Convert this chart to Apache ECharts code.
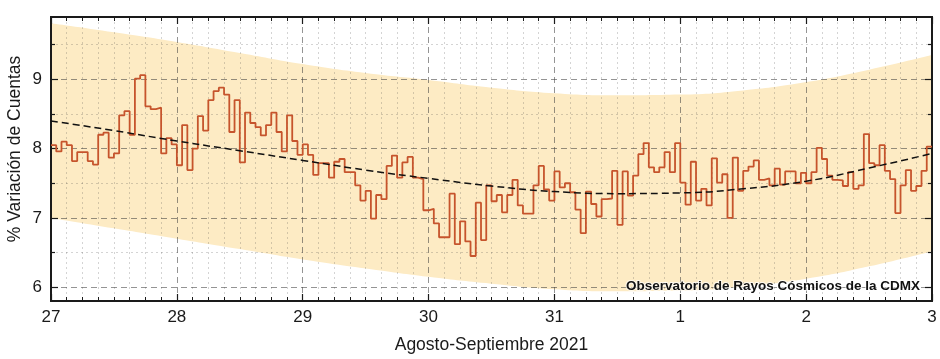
<!DOCTYPE html>
<html><head><meta charset="utf-8">
<script src="https://cdn.jsdelivr.net/npm/echarts@6/dist/echarts.min.js"></script>
<style>html,body{margin:0;padding:0;background:#fff}#c{width:940px;height:359px}</style>
</head><body><div id="c"></div>
<script>
// ---- data (hours counted from 27 Aug 00:00) ----
const dayLabels = ['27','28','29','30','31','1','2','3'];
const yMajorTicks = [6, 7, 8, 9];
const yMinorTicks = [6.5, 7.5, 8.5, 9.5];

const hourlyVariation = [
  8.05, 7.96, 8.10, 8.05, 7.82, 7.95, 7.95, 7.82, 7.77, 8.20, 8.23, 7.87, 7.93, 8.48, 8.54, 8.20, 9.01, 9.06, 8.61, 8.57, 8.59, 7.93, 8.15, 8.06,
  7.76, 8.34, 7.69, 8.00, 8.47, 8.26, 8.70, 8.83, 8.88, 8.78, 8.24, 8.70, 7.80, 8.52, 8.37, 8.31, 8.19, 8.34, 8.52, 8.24, 7.96, 8.48, 8.11, 7.91,
  8.06, 7.91, 7.62, 7.79, 7.79, 7.58, 7.81, 7.85, 7.66, 7.66, 7.47, 7.25, 7.39, 6.99, 7.33, 7.27, 7.75, 7.90, 7.58, 7.80, 7.88, 7.58, 7.56, 7.11,
  7.13, 6.92, 6.72, 6.72, 7.35, 6.62, 6.95, 6.66, 6.45, 7.22, 6.68, 7.47, 7.24, 7.33, 7.08, 7.33, 7.55, 7.18, 7.06, 7.06, 7.47, 7.75, 7.41, 7.25,
  7.67, 7.44, 7.50, 7.37, 7.12, 6.78, 7.38, 7.20, 7.02, 7.27, 7.28, 7.68, 6.90, 7.67, 7.32, 7.61, 7.92, 8.08, 7.73, 7.66, 7.73, 7.95, 7.66, 8.08,
  7.51, 7.19, 7.81, 7.25, 7.42, 7.18, 7.86, 7.51, 7.63, 7.00, 7.87, 7.39, 7.68, 7.74, 7.83, 7.55, 7.57, 7.47, 7.71, 7.48, 7.67, 7.67, 7.50, 7.65,
  7.50, 7.66, 8.01, 7.85, 7.61, 7.55, 7.54, 7.46, 7.66, 7.42, 7.47, 8.21, 7.79, 7.76, 8.05, 7.68, 7.56, 7.07, 7.47, 7.69, 7.39, 7.46, 7.68, 8.03
];

const curveHours  = [0, 12, 24, 36, 48, 60, 72, 84, 96, 108, 120, 132, 144, 156, 168];
const trendValues = [8.40, 8.26, 8.11, 7.97, 7.83, 7.69, 7.57, 7.46, 7.38, 7.35, 7.36, 7.42, 7.53, 7.72, 7.93];
const bandUpper   = [9.81, 9.68, 9.54, 9.38, 9.22, 9.09, 8.99, 8.88, 8.80, 8.77, 8.78, 8.84, 8.96, 9.14, 9.35];
const bandLower   = [7.00, 6.85, 6.70, 6.55, 6.40, 6.27, 6.15, 6.05, 5.97, 5.94, 5.95, 6.01, 6.12, 6.30, 6.52];

const annotation = 'Observatorio de Rayos Cósmicos de la CDMX';
const xTitle = 'Agosto-Septiembre 2021';
const yTitle = '% Variación de Cuentas';

// ---- chart ----
const FF = '"Liberation Sans", Arial, sans-serif';
const INK = '#1a1a1a';
const MAJOR_GRID = {color: 'rgba(60,60,60,0.55)', type: [6, 4], width: 1};
const MINOR_GRID = {color: 'rgba(60,60,60,0.22)', type: [2, 3], width: 1};
const chart = echarts.init(document.getElementById('c'), null, {renderer: 'canvas'});

const stepData = hourlyVariation.map((v, i) => [i, v]);
stepData.push([hourlyVariation.length, hourlyVariation[hourlyVariation.length - 1]]);

const axisLineStyle = {show: true, onZero: false, lineStyle: {color: INK, width: 2}};

function xAx(pos, main) {
  return {
    type: 'value', position: pos, min: 0, max: 168, interval: 24, z: 3,
    axisLine: axisLineStyle,
    axisTick: {show: true, inside: true, length: 7, lineStyle: {color: INK, width: 1.2}},
    minorTick: {show: true, splitNumber: 8, length: 4, lineStyle: {color: INK, width: 1}},
    axisLabel: main ? {show: true, formatter: v => dayLabels[Math.round(v / 24)], fontSize: 17, color: INK, margin: 8, fontFamily: FF} : {show: false},
    splitLine: {show: main, lineStyle: MAJOR_GRID},
    minorSplitLine: {show: main, lineStyle: MINOR_GRID},
    name: main ? xTitle : '', nameLocation: 'middle', nameGap: 35,
    nameTextStyle: {fontSize: 17.5, color: INK, fontFamily: FF}
  };
}
function yAx(pos, ticks, major, showGrid) {
  return {
    type: 'value', position: pos, min: 5.8, max: 9.9, z: 3,
    axisLine: axisLineStyle,
    axisTick: {show: true, inside: true, length: major ? 7 : 4, customValues: ticks, lineStyle: {color: INK, width: 1.2}},
    axisLabel: (major && pos === 'left') ? {show: true, customValues: ticks, fontSize: 17, color: INK, margin: 9, fontFamily: FF} : {show: false},
    splitLine: {show: showGrid, lineStyle: major ? MAJOR_GRID : MINOR_GRID}
  };
}

const option = {
  animation: false,
  backgroundColor: '#fff',
  grid: {left: 51, right: 8, top: 17, bottom: 56, containLabel: false},
  xAxis: [xAx('bottom', true), xAx('top', false)],
  yAxis: [
    yAx('left', yMajorTicks, true, true),
    yAx('left', yMinorTicks, false, true),
    yAx('right', yMajorTicks, true, false),
    yAx('right', yMinorTicks, false, false)
  ],
  series: [
    {
      name: 'bandUpper', type: 'line', smooth: true, symbol: 'none', silent: true, z: 1,
      lineStyle: {opacity: 0}, areaStyle: {color: '#fdebc4', opacity: 1, origin: 'start'},
      data: curveHours.map((h, i) => [h, bandUpper[i]])
    },
    {
      name: 'bandLower', type: 'line', smooth: true, symbol: 'none', silent: true, z: 1,
      lineStyle: {opacity: 0}, areaStyle: {color: '#ffffff', opacity: 1, origin: 'start'},
      data: curveHours.map((h, i) => [h, bandLower[i]])
    },
    {
      name: 'variation', type: 'line', step: 'end', symbol: 'none', z: 5,
      lineStyle: {color: '#c6542c', width: 1.8}, data: stepData
    },
    {
      name: 'trend', type: 'line', smooth: true, symbol: 'none', z: 6,
      lineStyle: {color: '#111', width: 1.5, type: [7, 4]},
      data: curveHours.map((h, i) => [h, trendValues[i]])
    }
  ],
  graphic: [
    {type: 'text', x: 15, y: 149, rotation: Math.PI / 2,
     style: {text: yTitle, font: '17.5px ' + FF, fill: INK, align: 'center', verticalAlign: 'middle'}},
    {type: 'text', x: 626, y: 286, z: 100,
     style: {text: annotation, font: 'bold 13.5px ' + FF, fill: '#111', align: 'left', verticalAlign: 'middle',
             stroke: 'rgba(255,255,255,0.7)', lineWidth: 2}}
  ]
};
chart.setOption(option);
</script>
</body></html>
